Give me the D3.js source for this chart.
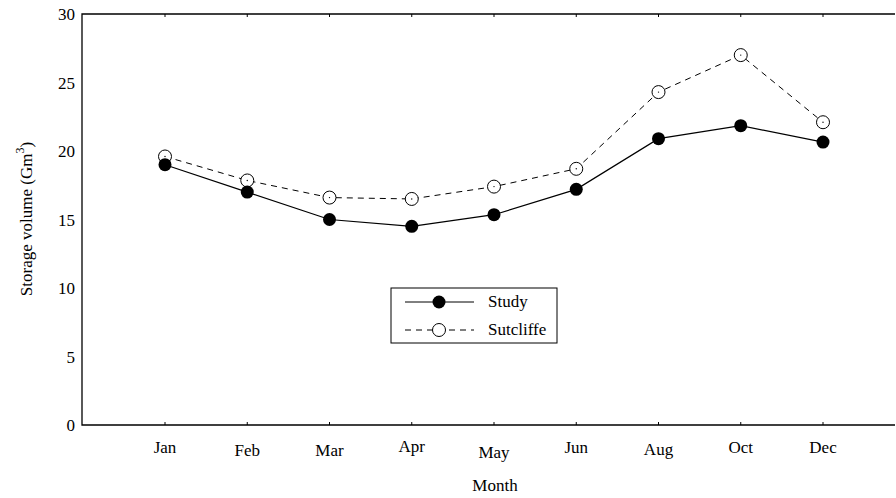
<!DOCTYPE html>
<html><head><meta charset="utf-8">
<script src="https://cdn.jsdelivr.net/npm/d3@7"></script>
<style>body{margin:0;background:#fff}</style>
</head><body><div id="chart"></div>
<script>
const months = ["Jan","Feb","Mar","Apr","May","Jun","Aug","Oct","Dec"];
const study = [19.0, 17.0, 15.0, 14.5, 15.35, 17.2, 20.9, 21.85, 20.65];
const sutcliffe = [19.6, 17.85, 16.6, 16.5, 17.4, 18.7, 24.3, 27.0, 22.1];
const yTicks = [0, 5, 10, 15, 20, 25, 30];

const W = 896, H = 498, pL = 82, pR = 895, pT = 14, pB = 425;
const svg = d3.select("#chart").append("svg").attr("width", W).attr("height", H)
  .style("font-family", "'Liberation Serif', 'Times New Roman', Tinos, 'DejaVu Serif', serif");

const x = d3.scalePoint().domain(months).range([165, 823]);
const y = d3.scaleLinear().domain([0, 30]).range([pB, pT]);

// frame: left, top, bottom
svg.append("path").attr("d", `M${pR},${pT}H${pL}V${pB}H${pR}`)
  .attr("fill", "none").attr("stroke", "#000").attr("stroke-width", 1.3);

// small ticks inside on top/bottom
months.forEach(m => {
  svg.append("line").attr("x1", x(m)).attr("x2", x(m)).attr("y1", pB).attr("y2", pB - 3).attr("stroke", "#000");
  svg.append("line").attr("x1", x(m)).attr("x2", x(m)).attr("y1", pT).attr("y2", pT + 3).attr("stroke", "#000");
});

const yOff = [453, 456, 456, 452, 458, 453, 455, 453, 453];
svg.selectAll(".xl").data(months).join("text")
  .attr("x", d => x(d)).attr("y", (d, i) => yOff[i])
  .attr("text-anchor", "middle").attr("font-size", 17).text(d => d);

svg.selectAll(".yl").data(yTicks).join("text")
  .attr("x", pL - 7).attr("y", d => y(d) + 6)
  .attr("text-anchor", "end").attr("font-size", 17).text(d => d);

svg.append("text").attr("x", 495).attr("y", 491).attr("text-anchor", "middle")
  .attr("font-size", 17).text("Month");

const yl = svg.append("text").attr("transform", "translate(32,219) rotate(-90)")
  .attr("text-anchor", "middle").attr("font-size", 17);
yl.append("tspan").text("Storage volume (Gm");
yl.append("tspan").attr("dy", -8).attr("font-size", 12).text("3");
yl.append("tspan").attr("dy", 8).text(")");

const line = d3.line().x((d, i) => x(months[i])).y(d => y(d));

svg.append("path").datum(sutcliffe).attr("d", line).attr("fill", "none")
  .attr("stroke", "#000").attr("stroke-width", 1).attr("stroke-dasharray", "6,5");
svg.append("path").datum(study).attr("d", line).attr("fill", "none")
  .attr("stroke", "#000").attr("stroke-width", 1.2);

svg.selectAll(".su").data(sutcliffe).join("circle")
  .attr("cx", (d, i) => x(months[i])).attr("cy", d => y(d)).attr("r", 6.5)
  .attr("fill", "#fff").attr("stroke", "#000").attr("stroke-width", 1);
svg.selectAll(".sud").data(sutcliffe).join("circle")
  .attr("cx", (d, i) => x(months[i])).attr("cy", d => y(d)).attr("r", 0.7).attr("fill", "#000");
svg.selectAll(".st").data(study).join("circle")
  .attr("cx", (d, i) => x(months[i])).attr("cy", d => y(d)).attr("r", 6.5).attr("fill", "#000");

// legend
const lg = svg.append("g");
lg.append("rect").attr("x", 391).attr("y", 288).attr("width", 166).attr("height", 55)
  .attr("fill", "#fff").attr("stroke", "#000").attr("stroke-width", 1);
lg.append("line").attr("x1", 405).attr("x2", 474).attr("y1", 302).attr("y2", 302).attr("stroke", "#000");
lg.append("circle").attr("cx", 439).attr("cy", 302).attr("r", 6.5).attr("fill", "#000");
lg.append("text").attr("x", 488).attr("y", 307).attr("font-size", 17).text("Study");
lg.append("line").attr("x1", 405).attr("x2", 474).attr("y1", 330).attr("y2", 330)
  .attr("stroke", "#000").attr("stroke-dasharray", "6,5");
lg.append("circle").attr("cx", 439).attr("cy", 330).attr("r", 6.5).attr("fill", "#fff").attr("stroke", "#000");
lg.append("text").attr("x", 488).attr("y", 335).attr("font-size", 17).text("Sutcliffe");
</script></body></html>
